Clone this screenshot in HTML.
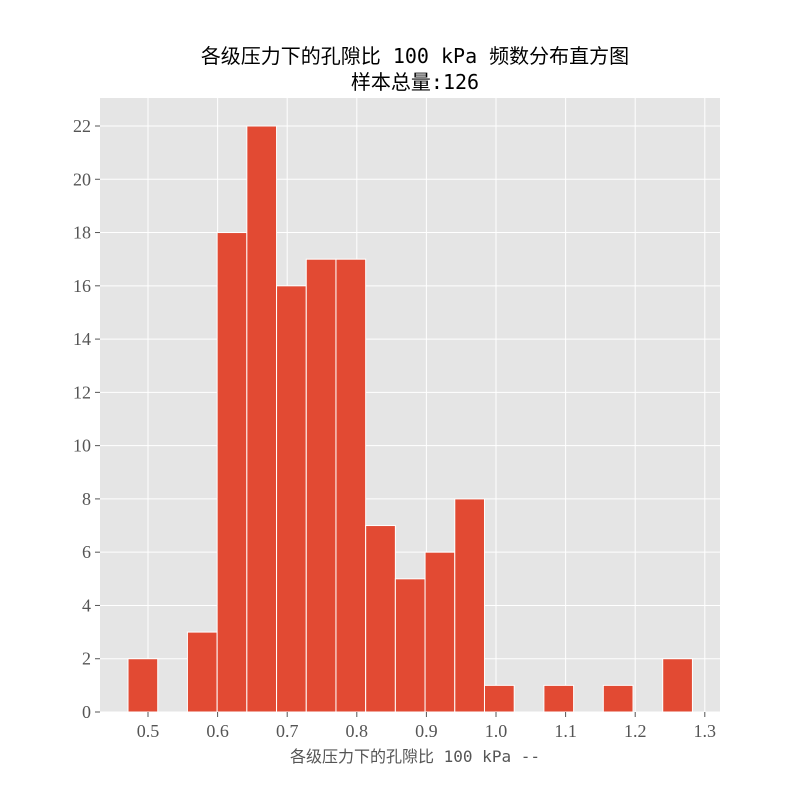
<!DOCTYPE html>
<html><head><meta charset="utf-8">
<style>
body{margin:0;background:#fff;}
svg text{font-family:"Liberation Serif",serif;}
.cjk{font-family:"DejaVu Sans Mono","Noto Sans CJK SC",monospace;}
</style></head>
<body>
<svg id="chart" width="800" height="800" xmlns="http://www.w3.org/2000/svg">
<rect x="0" y="0" width="800" height="800" fill="#fff"/>
<rect x="100" y="98" width="620" height="614" fill="#e5e5e5"/>
<g id="grid"></g>
<g id="bars"></g>
<g id="ticks"></g>
<text class="cjk" x="415" y="63" text-anchor="middle" font-size="20" fill="#000">各级压力下的孔隙比 100 kPa 频数分布直方图</text>
<text class="cjk" x="415" y="89" text-anchor="middle" font-size="20" fill="#000">样本总量:126</text>
<text class="cjk" x="415" y="762" text-anchor="middle" font-size="16" fill="#555">各级压力下的孔隙比 100 kPa --</text>
</svg>
<script>
const binStart = 0.4713;
const binWidth = 0.04268;
const counts = [2,0,3,18,22,16,17,17,7,5,6,8,1,0,1,0,1,0,2];
const xTicks = [0.5,0.6,0.7,0.8,0.9,1.0,1.1,1.2,1.3];
const xTickLabels = ["0.5","0.6","0.7","0.8","0.9","1.0","1.1","1.2","1.3"];
const yTicks = [0,2,4,6,8,10,12,14,16,18,20,22];

const NS="http://www.w3.org/2000/svg";
function xs(v){return 148+(v-0.5)*696;}
function ys(v){return 712-v*(586/22);}
function mk(tag,attrs,parent){const e=document.createElementNS(NS,tag);for(const k in attrs)e.setAttribute(k,attrs[k]);parent.appendChild(e);return e;}
const grid=document.getElementById('grid'),bars=document.getElementById('bars'),ticks=document.getElementById('ticks');
xTicks.forEach((t,i)=>{
  const g=mk('line',{x1:xs(t),x2:xs(t),y1:98,y2:712,stroke:'#fff','stroke-width':1},grid);
  
  
  mk('line',{x1:xs(t),x2:xs(t),y1:712,y2:717,stroke:'#555','stroke-width':1},ticks);
  const tx=mk('text',{x:xs(t),y:737,'text-anchor':'middle','font-size':18,fill:'#555'},ticks);
  tx.textContent=xTickLabels[i];
  
  
});
yTicks.forEach(t=>{
  const g=mk('line',{x1:100,x2:720,y1:ys(t),y2:ys(t),stroke:'#fff','stroke-width':1},grid);
  
  
  mk('line',{x1:95,x2:100,y1:ys(t),y2:ys(t),stroke:'#555','stroke-width':1},ticks);
  const tx=mk('text',{x:91,y:ys(t)+6,'text-anchor':'end','font-size':18,fill:'#555'},ticks);
  tx.textContent=String(t);
  
  
});
counts.forEach((c,i)=>{
  if(c<=0)return;
  const x0=xs(binStart+i*binWidth),x1=xs(binStart+(i+1)*binWidth);
  const r=mk('rect',{x:x0,y:ys(c),width:x1-x0,height:712-ys(c),fill:'#e24a33',stroke:'#fff','stroke-width':1},bars);
  
  
});
</script>
</body></html>
